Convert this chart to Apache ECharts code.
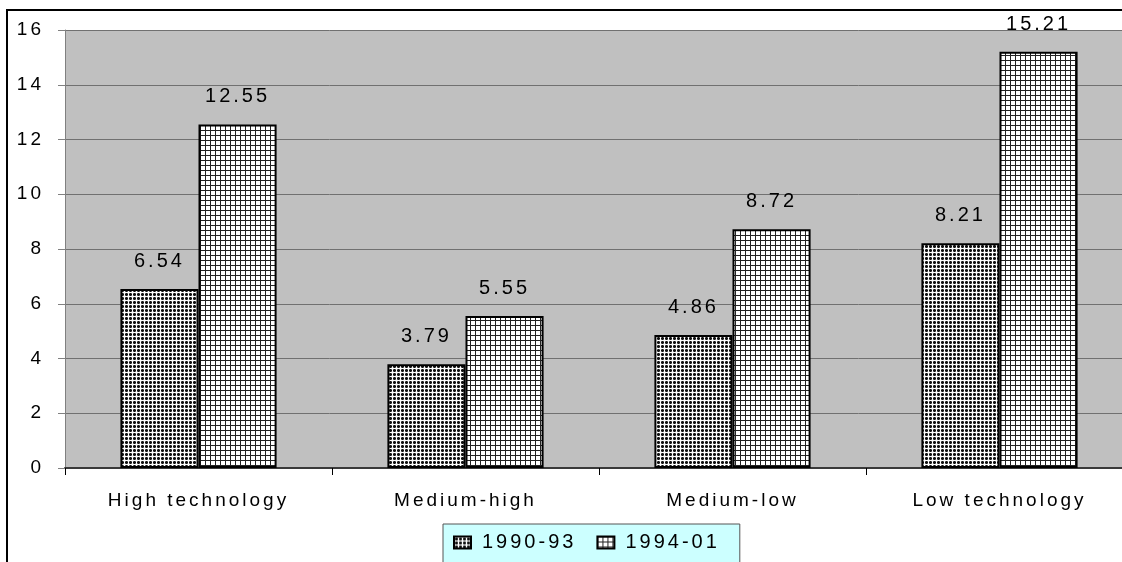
<!DOCTYPE html>
<html>
<head>
<meta charset="utf-8">
<script src="https://cdn.jsdelivr.net/npm/echarts@6/dist/echarts.min.js"></script>
<style>
  html, body { margin: 0; padding: 0; background: #fff; overflow: hidden; }
  #chart { width: 1122px; height: 562px; }
</style>
</head>
<body>
<div id="chart"></div>
<script>
const categories = ['High technology', 'Medium-high', 'Medium-low', 'Low technology']
const seriesNames = ['1990-93', '1994-01']
const values9093 = [6.54, 3.79, 4.86, 8.21]
const values9401 = [12.55, 5.55, 8.72, 15.21]

// spaced-out text like the original (canvas letterSpacing)
const proto = CanvasRenderingContext2D.prototype
const origFill = proto.fillText
const origMeasure = proto.measureText
proto.fillText = function() {
  this.letterSpacing = '3px'
  return origFill.apply(this, arguments)
}
proto.measureText = function() {
  this.letterSpacing = '3px'
  return origMeasure.apply(this, arguments)
}

// hatch patterns
function dotPattern() {
  const c = document.createElement('canvas')
  c.width = 4
  c.height = 4
  const ctx = c.getContext('2d')
  ctx.fillStyle = '#fff'
  ctx.fillRect(0, 0, 4, 4)
  ctx.fillStyle = '#111'
  ctx.fillRect(1, 1, 3, 3)
  ctx.fillStyle = '#666'
  ctx.fillRect(1, 1, 1, 1)
  ctx.fillRect(3, 1, 1, 1)
  ctx.fillRect(1, 3, 1, 1)
  ctx.fillRect(3, 3, 1, 1)
  return c
}
function gridPattern() {
  const c = document.createElement('canvas')
  c.width = 5
  c.height = 5
  const ctx = c.getContext('2d')
  ctx.fillStyle = '#fff'
  ctx.fillRect(0, 0, 5, 5)
  ctx.fillStyle = '#222'
  ctx.fillRect(0, 0, 5, 1)
  ctx.fillRect(0, 0, 1, 5)
  return c
}

const myChart = echarts.init(document.getElementById('chart'), null, { renderer: 'canvas' })
const font = 'Liberation Sans, Arial, sans-serif'

const options = {
  animation: false,
  backgroundColor: '#fff',
  textStyle: { fontFamily: font },
  graphic: [
    {
      type: 'rect',
      z: -10,
      shape: { x: 7, y: 10, width: 1200, height: 600 },
      style: { fill: 'none', stroke: '#000', lineWidth: 2 }
    },
    {
      type: 'rect',
      z: -5,
      shape: { x: 65, y: 30, width: 1100, height: 438 },
      style: { fill: '#c0c0c0' }
    }
  ],
  grid: {
    left: 65,
    width: 1068,
    top: 30,
    bottom: 94,
    containLabel: false,
    outerBoundsMode: 'none'
  },
  legend: {
    data: seriesNames,
    left: 443,
    top: 524,
    padding: [7, 20, 20, 10],
    itemWidth: 17,
    itemHeight: 12,
    itemGap: 20,
    icon: 'rect',
    backgroundColor: '#ccffff',
    borderColor: '#555',
    borderWidth: 1,
    textStyle: {
      fontSize: 20,
      color: '#000',
      fontFamily: font,
      padding: [0, 0, 0, 6]
    }
  },
  xAxis: {
    type: 'category',
    data: categories,
    axisLine: { lineStyle: { color: '#3a3a3a', width: 2 } },
    axisTick: { show: true, length: 7, lineStyle: { color: '#000' } },
    axisLabel: {
      color: '#000',
      fontSize: 19,
      margin: 22,
      fontFamily: font
    }
  },
  yAxis: {
    type: 'value',
    min: 0,
    max: 16,
    interval: 2,
    axisLine: { show: true, lineStyle: { color: '#808080', width: 1 } },
    axisTick: { show: true, length: 7, lineStyle: { color: '#808080' } },
    splitLine: { lineStyle: { color: '#707070', width: 1 } },
    axisLabel: {
      color: '#000',
      fontSize: 19,
      margin: 21,
      fontFamily: font
    }
  },
  series: [
    {
      name: seriesNames[0],
      type: 'bar',
      data: values9093,
      barGap: '0%',
      barCategoryGap: '41.5%',
      itemStyle: {
        color: { image: dotPattern(), repeat: 'repeat' },
        borderColor: '#000',
        borderWidth: 2
      },
      label: {
        show: true,
        position: 'top',
        distance: 16,
        fontSize: 20,
        color: '#000',
        fontFamily: font
      }
    },
    {
      name: seriesNames[1],
      type: 'bar',
      data: values9401,
      barGap: '0%',
      barCategoryGap: '41.5%',
      itemStyle: {
        color: { image: gridPattern(), repeat: 'repeat' },
        borderColor: '#000',
        borderWidth: 2
      },
      label: {
        show: true,
        position: 'top',
        distance: 16,
        fontSize: 20,
        color: '#000',
        fontFamily: font
      }
    }
  ]
}
myChart.setOption(options)
</script>
</body>
</html>
